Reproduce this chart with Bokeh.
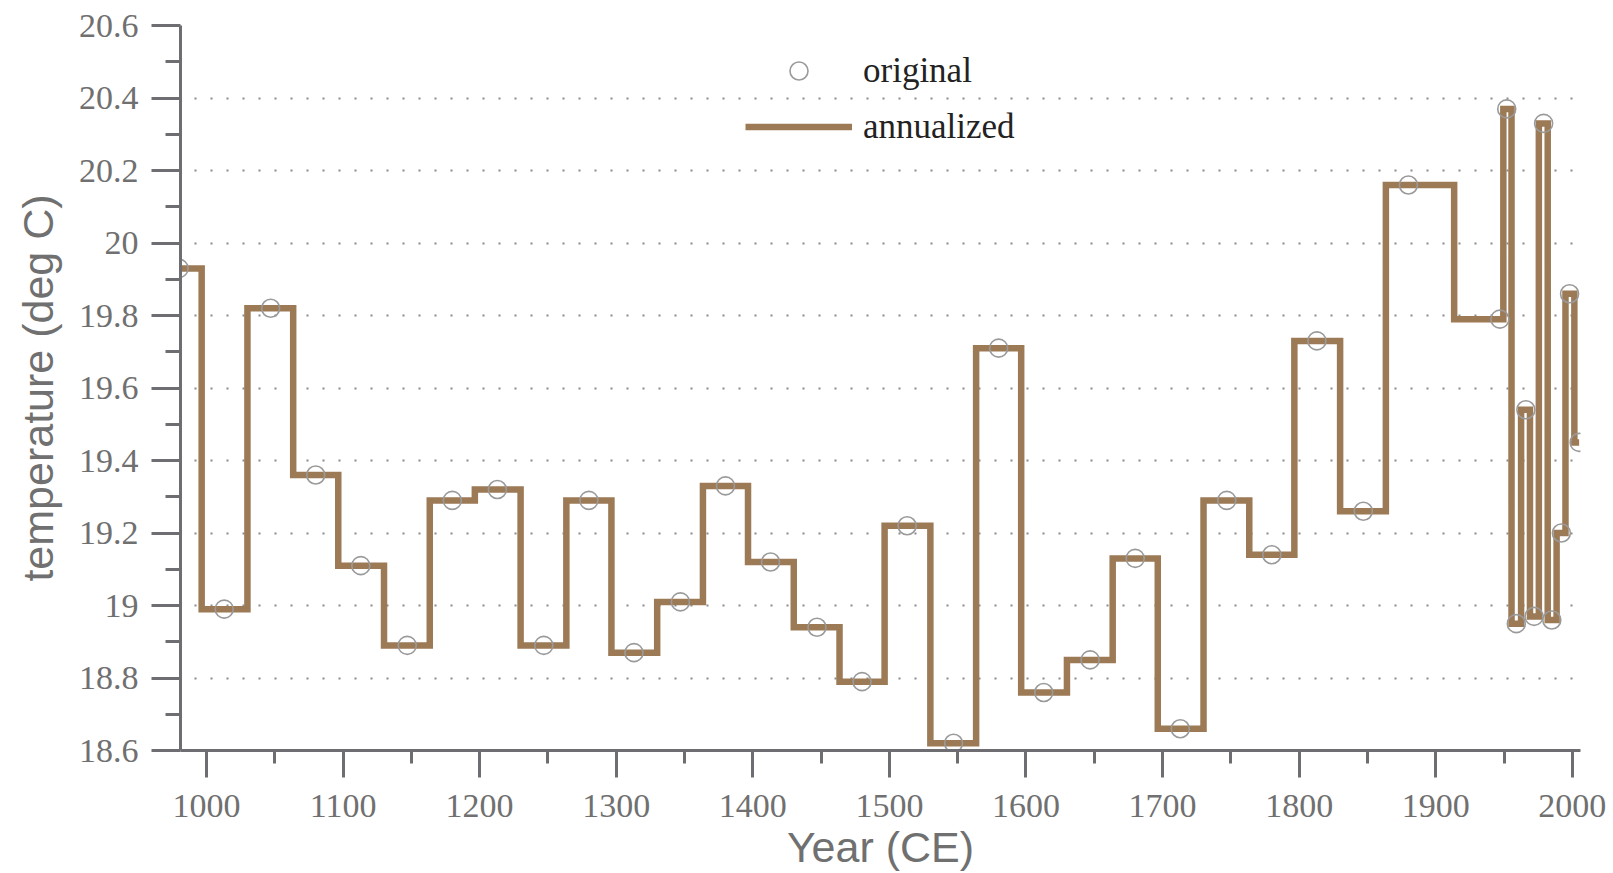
from bokeh.plotting import figure
from bokeh.models import Range1d, FixedTicker, CustomJSTickFormatter, Legend, LegendItem
from bokeh.embed import file_html
from bokeh.resources import INLINE

# ---- data ----
years = [980, 1013, 1047, 1080, 1113, 1147, 1180, 1213, 1247, 1280,
         1313, 1347, 1380, 1413, 1447, 1480, 1513, 1547, 1580, 1613,
         1647, 1680, 1713, 1747, 1780, 1813, 1847, 1880, 1947, 1952,
         1959, 1966, 1972, 1979, 1985, 1992, 1998, 2005]
temps = [19.93, 18.99, 19.82, 19.36, 19.11, 18.89, 19.29, 19.32, 18.89, 19.29,
         18.87, 19.01, 19.33, 19.12, 18.94, 18.79, 19.22, 18.62, 19.71, 18.76,
         18.85, 19.13, 18.66, 19.29, 19.14, 19.73, 19.26, 20.16, 19.79, 20.37,
         18.95, 19.54, 18.97, 20.33, 18.96, 19.20, 19.86, 19.45]

x_ticks = [1000, 1100, 1200, 1300, 1400, 1500, 1600, 1700, 1800, 1900, 2000]
x_minor_ticks = [1050, 1150, 1250, 1350, 1450, 1550, 1650, 1750, 1850, 1950]
y_ticks = [18.6, 18.8, 19.0, 19.2, 19.4, 19.6, 19.8, 20.0, 20.2, 20.4, 20.6]
y_minor_ticks = [18.7, 18.9, 19.1, 19.3, 19.5, 19.7, 19.9, 20.1, 20.3, 20.5]
grid_ticks = [18.8, 19.0, 19.2, 19.4, 19.6, 19.8, 20.0, 20.2, 20.4, 20.6]

x_label = "Year (CE)"
y_label = "temperature (deg C)"
series_names = ["original", "annualized"]

AXIS = "#6e6e72"
LABEL = "#707070"
BROWN = "#9c7a56"

p = figure(width=1608, height=873, output_backend="svg", toolbar_location=None,
           x_range=Range1d(981, 2006), y_range=Range1d(18.6, 20.6),
           min_border_left=180, min_border_right=28, min_border_top=25,
           min_border_bottom=123)
p.outline_line_color = None
p.background_fill_color = "white"

# grid
p.xgrid.visible = False
p.ygrid.ticker = FixedTicker(ticks=grid_ticks)
p.ygrid.grid_line_color = "#8a8a8a"
p.ygrid.grid_line_width = 2
p.ygrid.grid_line_dash = "2 14"
p.ygrid.grid_line_dash_offset = 2

# axes
for ax in (p.xaxis[0], p.yaxis[0]):
    ax.axis_line_color = AXIS
    ax.axis_line_width = 3
    ax.major_tick_line_color = AXIS
    ax.major_tick_line_width = 3
    ax.minor_tick_line_color = AXIS
    ax.minor_tick_line_width = 3
    ax.major_tick_in = 0
    ax.minor_tick_in = 0
    ax.major_label_text_font = "Liberation Serif"
    ax.major_label_text_font_size = "34px"
    ax.major_label_text_color = LABEL
    ax.axis_label_text_font = "Liberation Sans"
    ax.axis_label_text_font_size = "43px"
    ax.axis_label_text_font_style = "normal"
    ax.axis_label_text_color = LABEL

xa = p.xaxis[0]
xa.ticker = FixedTicker(ticks=x_ticks, minor_ticks=x_minor_ticks)
xa.major_tick_out = 27
xa.minor_tick_out = 13
xa.major_label_standoff = 17
xa.axis_label = x_label
xa.axis_label_standoff = 3

ya = p.yaxis[0]
ya.ticker = FixedTicker(ticks=y_ticks, minor_ticks=y_minor_ticks)
ya.major_tick_out = 29
ya.minor_tick_out = 15
ya.major_label_standoff = 13
ya.axis_label = y_label
ya.axis_label_standoff = 14
ya.formatter = CustomJSTickFormatter(code="return tick.toFixed(1).replace(/\\.0$/, '');")

# data
line = p.step(years, temps, mode="center", line_color=BROWN, line_width=6.5,
              line_join="miter")
pts = p.scatter(years, temps, marker="circle", size=18, fill_color=None,
                line_color="#9a9a9a", line_width=1.6)

legend = Legend(items=[LegendItem(label=series_names[0], renderers=[pts]),
                       LegendItem(label=series_names[1], renderers=[line])],
                location=(565, 601), orientation="vertical",
                padding=0, margin=0, spacing=11,
                glyph_width=107, glyph_height=45, label_height=45,
                label_standoff=11,
                label_text_font="Liberation Serif", label_text_font_size="35px",
                label_text_color="#222222",
                border_line_color=None, background_fill_alpha=0)
p.add_layout(legend, "center")

open("out.html", "w").write(file_html(p, INLINE))
